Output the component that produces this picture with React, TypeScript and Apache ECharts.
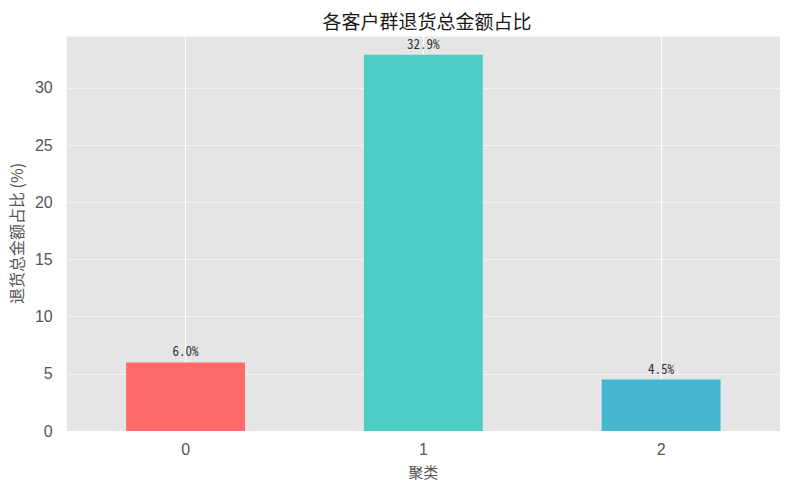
import { useEffect, useRef } from 'react';
import * as echarts from 'echarts';

const categories = ['0', '1', '2'];
const shareValues = [6.0, 32.9, 4.5];
const barColors = ['#FF6B6B', '#4ECDC4', '#45B7D1'];
const yTicks = [0, 5, 10, 15, 20, 25, 30];

const cjk = '"Noto Sans CJK SC", "Noto Sans", sans-serif';

function App() {
  const chartRef = useRef<HTMLDivElement>(null);

  useEffect(() => {
    if (!chartRef.current) return;
    const chart = echarts.init(chartRef.current, null, { renderer: 'svg' });

    const yMax = Math.max(...shareValues) * 1.05;

    chart.setOption({
      animation: false,
      title: {
        text: '各客户群退货总金额占比',
        left: 422,
        top: 6,
        textAlign: 'center',
        textStyle: { fontFamily: cjk, fontSize: 19, fontWeight: 'normal', color: '#1a1a1a' },
      },
      grid: {
        left: 64,
        right: 10,
        top: 36,
        bottom: 59,
        show: true,
        backgroundColor: '#E5E5E5',
        borderWidth: 0,
      },
      xAxis: {
        type: 'category',
        data: categories,
        name: '聚类',
        nameLocation: 'middle',
        nameGap: 33,
        nameTextStyle: { fontFamily: cjk, fontSize: 15, color: '#555' },
        axisLine: { show: false },
        axisTick: { show: false },
        axisLabel: { fontFamily: '"Liberation Sans", Arial, sans-serif', fontSize: 16, color: '#555', margin: 10 },
        splitLine: { show: false },
      },
      yAxis: {
        type: 'value',
        min: 0,
        max: yMax,
        interval: 5,
        name: '退货总金额占比 (%)',
        nameLocation: 'middle',
        nameGap: 38,
        nameTextStyle: { fontFamily: cjk, fontSize: 16, color: '#555' },
        axisLine: { show: false },
        axisTick: { show: false },
        axisLabel: {
          fontFamily: '"Liberation Sans", Arial, sans-serif',
          fontSize: 16,
          color: '#555',
          margin: 14,
          showMaxLabel: false,
          formatter: (v: number) => (yTicks.includes(v) ? String(v) : ''),
        },
        splitLine: { show: true, lineStyle: { color: 'rgba(255,255,255,0.55)', width: 1 } },
      },
      series: [
        {
          type: 'bar',
          barWidth: '50%',
          data: shareValues.map((v, i) => ({ value: v, itemStyle: { color: barColors[i] } })),
          label: {
            show: true,
            position: 'top',
            distance: 5,
            fontFamily: '"Noto Sans Mono CJK SC", "DejaVu Sans Mono", monospace',
            fontSize: 13,
            color: '#333',
            formatter: (p: { value: number }) => `${p.value.toFixed(1)}%`,
          },
          markLine: {
            silent: true,
            symbol: 'none',
            z: 1,
            label: { show: false },
            lineStyle: { color: '#ffffff', width: 1.2, type: 'solid' },
            data: categories.map((c) => ({ xAxis: c })),
          },
        },
      ],
    });

    return () => chart.dispose();
  }, []);

  return (
    <div
      ref={chartRef}
      style={{ position: 'fixed', left: 0, top: 0, width: '790px', height: '490px', background: '#fff' }}
    />
  );
}

export default App;
